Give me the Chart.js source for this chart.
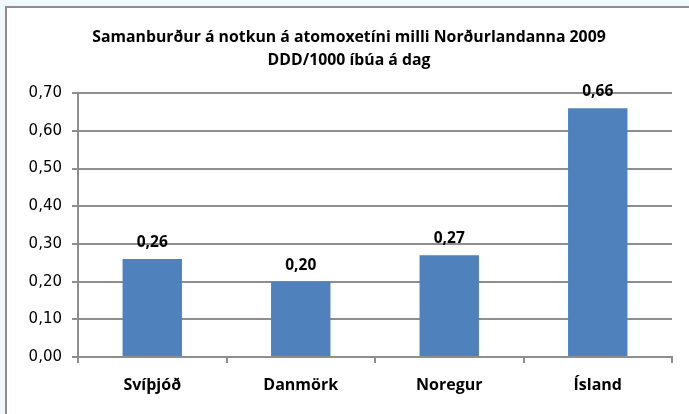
<!DOCTYPE html>
<html>
<head>
<meta charset="utf-8">
<script src="https://cdn.jsdelivr.net/npm/chart.js@4"></script>
<style>
    html, body { margin: 0; padding: 0; }
    body { width: 689px; height: 414px; background: #f1f8fc; position: relative; overflow: hidden; }
    #frame {
        position: absolute; left: 5px; top: 6px; width: 700px; height: 420px;
        background: #fff; border-left: 2px solid #8e8e8e; border-top: 2px solid #8e8e8e;
    }
    #wrap { position: absolute; left: 0; top: 0; width: 689px; height: 414px; }
</style>
</head>
<body>
<div id="frame"></div>
<div id="wrap"><canvas id="myChart" width="689" height="414"></canvas></div>
<script>
const titleLines = ['Samanburður á notkun á atomoxetíni milli Norðurlandanna 2009', 'DDD/1000 íbúa á dag'];
const countries = ['Svíþjóð', 'Danmörk', 'Noregur', 'Ísland'];
const dddValues = [0.26, 0.20, 0.27, 0.66];

const FONT = "'Open Sans', 'Liberation Sans', sans-serif";
const TICK_FONT = "'DejaVu Sans', 'Open Sans', sans-serif";
const GRID = '#8e8e8e';

function fmt(v) {
    return Number(v).toFixed(2).replace('.', ',');
}

// draws the value above each bar
const valueLabels = {
    id: 'valueLabels',
    afterDatasetsDraw(chart) {
        const ctx = chart.ctx;
        const meta = chart.getDatasetMeta(0);
        ctx.save();
        ctx.font = 'bold 15.5px ' + FONT;
        ctx.fillStyle = '#000';
        ctx.textAlign = 'center';
        ctx.textBaseline = 'alphabetic';
        meta.data.forEach((bar, i) => {
            ctx.fillText(fmt(dddValues[i]), bar.x, bar.y - 12);
        });
        ctx.restore();
    }
};

const ctx = document.getElementById('myChart').getContext('2d');
new Chart(ctx, {
    type: 'bar',
    data: {
        labels: countries,
        datasets: [{
            data: dddValues,
            backgroundColor: '#4f81bd',
            borderWidth: 0,
            categoryPercentage: 1,
            barPercentage: 0.4
        }]
    },
    options: {
        responsive: false,
        animation: false,
        events: [],
        // left padding keeps the title centred where the original has it
        layout: { padding: { left: 26, right: 17, top: 0, bottom: 0 } },
        plugins: {
            legend: { display: false },
            tooltip: { enabled: false },
            title: {
                display: true,
                text: titleLines,
                color: '#000',
                font: { family: FONT, size: 15.8, weight: 'bold', lineHeight: 1.46 },
                padding: { top: 26, bottom: 21 }
            }
        },
        scales: {
            x: {
                grid: { display: true, offset: true, drawOnChartArea: false, color: GRID, lineWidth: 2, tickLength: 6 },
                border: { color: GRID, width: 2 },
                ticks: { color: '#000', font: { family: FONT, size: 16, weight: 'bold' }, padding: 13 },
                afterFit(scale) { scale.height = 57; }
            },
            y: {
                min: 0,
                max: 0.7,
                ticks: { stepSize: 0.1, color: '#000', font: { family: TICK_FONT, size: 15 }, padding: 10, callback: v => fmt(v) },
                grid: { color: GRID, lineWidth: 2, tickLength: 6 },
                border: { color: GRID, width: 2 },
                afterFit(scale) { scale.width = 52; }
            }
        }
    },
    plugins: [valueLabels]
});
</script>
</body>
</html>
